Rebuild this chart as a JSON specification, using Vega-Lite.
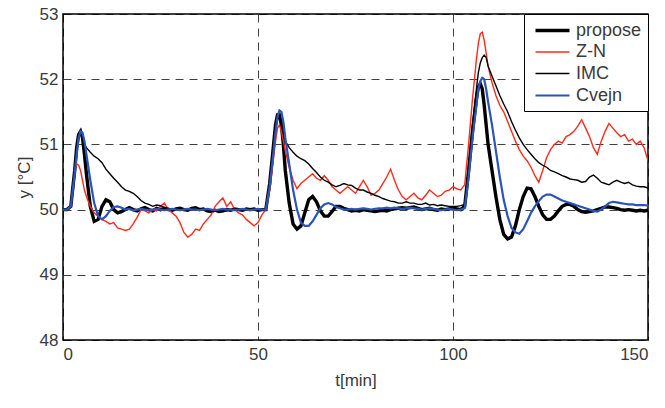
{
"$schema": "https://vega.github.io/schema/vega-lite/v6.json",
"width": 585, "height": 326,
"autosize": {"type": "none"},
"padding": {"left": 63, "top": 14, "right": 17, "bottom": 68},
"background": "white",
"config": {
  "view": {"stroke": "#000000", "strokeWidth": 1.5},
  "axis": {"labelFont": "Liberation Sans", "titleFont": "Liberation Sans", "labelFontSize": 17, "titleFontSize": 17, "titleFontWeight": "normal", "labelColor": "#3a3a3a", "titleColor": "#3a3a3a", "domain": false, "ticks": false, "grid": true, "gridColor": "#000000", "gridDash": [8, 6], "gridWidth": 1, "gridOpacity": 0.75},
  "legend": {"labelFont": "Liberation Sans"}
},
"data": {"values": [
{"t":0,"p":50,"z":50,"i":50,"c":50},
{"t":1,"p":50,"z":50,"i":50,"c":50},
{"t":2,"p":50.05,"z":50.05,"i":50.05,"c":50.05},
{"t":3,"p":50.6,"z":50.55,"i":50.6,"c":50.55},
{"t":3.5,"p":50.95,"z":50.7,"i":50.95,"c":50.85},
{"t":4,"p":51.15,"z":50.68,"i":51.15,"c":51.1},
{"t":4.5,"p":51.2,"z":50.6,"i":51.18,"c":51.2},
{"t":5,"p":51.1,"z":50.45,"i":51.1,"c":51.18},
{"t":5.5,"p":50.85,"z":50.3,"i":51.0,"c":51.05},
{"t":6,"p":50.55,"z":50.2,"i":50.95,"c":50.85},
{"t":7,"p":50.05,"z":50.05,"i":50.88,"c":50.45},
{"t":8,"p":49.82,"z":49.95,"i":50.82,"c":50.1},
{"t":9,"p":49.85,"z":49.9,"i":50.78,"c":49.9},
{"t":10,"p":50.05,"z":49.85,"i":50.72,"c":49.85},
{"t":11,"p":50.15,"z":49.82,"i":50.62,"c":49.9},
{"t":12,"p":50.12,"z":49.78,"i":50.55,"c":49.98},
{"t":13,"p":50.0,"z":49.8,"i":50.48,"c":50.04},
{"t":14,"p":49.95,"z":49.72,"i":50.42,"c":50.05},
{"t":15,"p":49.97,"z":49.7,"i":50.35,"c":50.03},
{"t":16,"p":50.0,"z":49.68,"i":50.3,"c":50.0},
{"t":17,"p":50.03,"z":49.7,"i":50.28,"c":50.01},
{"t":18,"p":50.0,"z":49.78,"i":50.25,"c":49.99},
{"t":19,"p":49.98,"z":49.88,"i":50.2,"c":50.0},
{"t":20,"p":50.01,"z":50.0,"i":50.14,"c":50.01},
{"t":21,"p":50.03,"z":49.98,"i":50.1,"c":50.0},
{"t":22,"p":50.0,"z":49.95,"i":50.08,"c":49.99},
{"t":23,"p":49.98,"z":50.0,"i":50.05,"c":50.0},
{"t":24,"p":50.02,"z":49.98,"i":50.07,"c":50.01},
{"t":25,"p":50.0,"z":50.05,"i":50.06,"c":50.0},
{"t":26,"p":50.02,"z":50.1,"i":50.03,"c":49.99},
{"t":27,"p":50.0,"z":50.0,"i":50.02,"c":50.0},
{"t":28,"p":49.99,"z":49.95,"i":50.0,"c":50.01},
{"t":29,"p":50.01,"z":49.9,"i":50.01,"c":50.0},
{"t":30,"p":50.02,"z":49.8,"i":50.02,"c":49.99},
{"t":31,"p":50.0,"z":49.65,"i":50.0,"c":50.0},
{"t":32,"p":49.99,"z":49.58,"i":49.99,"c":50.01},
{"t":33,"p":50.02,"z":49.62,"i":50.01,"c":50.0},
{"t":34,"p":50.03,"z":49.7,"i":50.02,"c":50.0},
{"t":35,"p":50.0,"z":49.68,"i":49.99,"c":49.99},
{"t":36,"p":50.01,"z":49.78,"i":50.0,"c":50.0},
{"t":37,"p":49.98,"z":49.85,"i":49.98,"c":50.01},
{"t":38,"p":49.97,"z":49.92,"i":49.97,"c":50.0},
{"t":39,"p":49.99,"z":50.05,"i":49.98,"c":49.99},
{"t":40,"p":49.97,"z":50.12,"i":49.99,"c":50.0},
{"t":41,"p":49.98,"z":50.18,"i":49.97,"c":50.01},
{"t":42,"p":50.0,"z":50.05,"i":49.98,"c":50.0},
{"t":43,"p":49.99,"z":50.12,"i":50.0,"c":50.0},
{"t":44,"p":50.01,"z":50.0,"i":50.01,"c":49.99},
{"t":45,"p":50.0,"z":49.95,"i":50.0,"c":50.0},
{"t":46,"p":49.99,"z":49.92,"i":49.99,"c":50.01},
{"t":47,"p":50.01,"z":49.85,"i":50.0,"c":50.0},
{"t":48,"p":50.0,"z":49.8,"i":50.01,"c":49.99},
{"t":49,"p":50.01,"z":49.75,"i":49.99,"c":50.0},
{"t":50,"p":49.99,"z":49.8,"i":50.0,"c":50.01},
{"t":51,"p":50.0,"z":49.92,"i":50.0,"c":50.0},
{"t":52,"p":50.0,"z":50.0,"i":50.0,"c":50.0},
{"t":53,"p":50.4,"z":50.3,"i":50.4,"c":50.35},
{"t":54,"p":51.0,"z":50.8,"i":50.95,"c":50.9},
{"t":54.5,"p":51.3,"z":51.05,"i":51.25,"c":51.2},
{"t":55,"p":51.45,"z":51.25,"i":51.4,"c":51.42},
{"t":55.5,"p":51.45,"z":51.3,"i":51.45,"c":51.52},
{"t":56,"p":51.3,"z":51.2,"i":51.35,"c":51.5},
{"t":56.5,"p":51.0,"z":51.05,"i":51.2,"c":51.35},
{"t":57,"p":50.6,"z":50.9,"i":51.05,"c":51.1},
{"t":58,"p":50.1,"z":50.65,"i":50.95,"c":50.7},
{"t":59,"p":49.78,"z":50.45,"i":50.88,"c":50.3},
{"t":60,"p":49.7,"z":50.32,"i":50.82,"c":50.0},
{"t":61,"p":49.75,"z":50.4,"i":50.78,"c":49.8},
{"t":62,"p":49.95,"z":50.45,"i":50.75,"c":49.75},
{"t":63,"p":50.15,"z":50.5,"i":50.7,"c":49.75},
{"t":64,"p":50.2,"z":50.55,"i":50.63,"c":49.82},
{"t":65,"p":50.12,"z":50.48,"i":50.57,"c":49.92},
{"t":66,"p":49.98,"z":50.45,"i":50.5,"c":50.02},
{"t":67,"p":49.9,"z":50.52,"i":50.45,"c":50.08},
{"t":68,"p":49.9,"z":50.45,"i":50.42,"c":50.1},
{"t":69,"p":49.97,"z":50.35,"i":50.38,"c":50.08},
{"t":70,"p":50.05,"z":50.3,"i":50.35,"c":50.04},
{"t":71,"p":50.05,"z":50.25,"i":50.37,"c":50.02},
{"t":72,"p":50.02,"z":50.3,"i":50.4,"c":50.0},
{"t":73,"p":50.0,"z":50.35,"i":50.38,"c":50.0},
{"t":74,"p":49.98,"z":50.3,"i":50.37,"c":50.01},
{"t":75,"p":49.99,"z":50.25,"i":50.33,"c":50.0},
{"t":76,"p":49.98,"z":50.35,"i":50.3,"c":50.01},
{"t":77,"p":50.0,"z":50.45,"i":50.3,"c":50.02},
{"t":78,"p":49.99,"z":50.35,"i":50.27,"c":50.01},
{"t":79,"p":49.98,"z":50.22,"i":50.25,"c":50.0},
{"t":80,"p":49.97,"z":50.25,"i":50.22,"c":50.01},
{"t":81,"p":49.98,"z":50.3,"i":50.2,"c":50.02},
{"t":82,"p":49.99,"z":50.4,"i":50.17,"c":50.02},
{"t":83,"p":49.98,"z":50.5,"i":50.15,"c":50.03},
{"t":84,"p":50.0,"z":50.62,"i":50.13,"c":50.02},
{"t":85,"p":50.01,"z":50.45,"i":50.12,"c":50.03},
{"t":86,"p":50.02,"z":50.3,"i":50.1,"c":50.02},
{"t":87,"p":50.03,"z":50.2,"i":50.1,"c":50.01},
{"t":88,"p":50.02,"z":50.15,"i":50.12,"c":50.02},
{"t":89,"p":50.03,"z":50.2,"i":50.1,"c":50.03},
{"t":90,"p":50.04,"z":50.25,"i":50.1,"c":50.02},
{"t":91,"p":50.02,"z":50.18,"i":50.08,"c":50.01},
{"t":92,"p":50.0,"z":50.15,"i":50.08,"c":50.0},
{"t":93,"p":50.01,"z":50.22,"i":50.1,"c":50.01},
{"t":94,"p":50.02,"z":50.3,"i":50.07,"c":50.02},
{"t":95,"p":50.0,"z":50.25,"i":50.08,"c":50.01},
{"t":96,"p":49.99,"z":50.2,"i":50.06,"c":50.0},
{"t":97,"p":50.01,"z":50.22,"i":50.07,"c":49.99},
{"t":98,"p":50.0,"z":50.28,"i":50.06,"c":50.0},
{"t":99,"p":50.01,"z":50.3,"i":50.05,"c":50.01},
{"t":100,"p":50.02,"z":50.35,"i":50.05,"c":50.0},
{"t":101,"p":50.01,"z":50.32,"i":50.05,"c":49.99},
{"t":102,"p":50.0,"z":50.3,"i":50.06,"c":50.0},
{"t":103,"p":50.05,"z":50.38,"i":50.08,"c":50.02},
{"t":104,"p":50.6,"z":51.0,"i":50.6,"c":50.5},
{"t":105,"p":51.2,"z":51.7,"i":51.3,"c":51.1},
{"t":106,"p":51.7,"z":52.3,"i":51.85,"c":51.6},
{"t":106.5,"p":51.88,"z":52.55,"i":52.1,"c":51.85},
{"t":107,"p":51.93,"z":52.7,"i":52.25,"c":51.97},
{"t":107.5,"p":51.85,"z":52.72,"i":52.33,"c":52.02},
{"t":108,"p":51.6,"z":52.6,"i":52.37,"c":52.0},
{"t":108.5,"p":51.3,"z":52.4,"i":52.33,"c":51.85},
{"t":109,"p":51.0,"z":52.2,"i":52.2,"c":51.65},
{"t":110,"p":50.6,"z":51.95,"i":52.05,"c":51.3},
{"t":111,"p":50.2,"z":51.75,"i":51.9,"c":50.9},
{"t":112,"p":49.85,"z":51.6,"i":51.75,"c":50.5},
{"t":113,"p":49.62,"z":51.5,"i":51.62,"c":50.15},
{"t":114,"p":49.55,"z":51.35,"i":51.5,"c":49.9},
{"t":115,"p":49.58,"z":51.2,"i":51.35,"c":49.72},
{"t":116,"p":49.75,"z":51.05,"i":51.22,"c":49.65},
{"t":117,"p":50.0,"z":50.92,"i":51.1,"c":49.63},
{"t":118,"p":50.2,"z":50.82,"i":51.0,"c":49.7},
{"t":119,"p":50.33,"z":50.75,"i":50.92,"c":49.82},
{"t":120,"p":50.32,"z":50.65,"i":50.85,"c":49.95},
{"t":121,"p":50.2,"z":50.52,"i":50.78,"c":50.05},
{"t":122,"p":50.05,"z":50.42,"i":50.72,"c":50.13},
{"t":123,"p":49.92,"z":50.6,"i":50.68,"c":50.2},
{"t":124,"p":49.85,"z":50.8,"i":50.65,"c":50.23},
{"t":125,"p":49.85,"z":50.92,"i":50.6,"c":50.23},
{"t":126,"p":49.9,"z":51.0,"i":50.58,"c":50.2},
{"t":127,"p":49.98,"z":51.05,"i":50.55,"c":50.17},
{"t":128,"p":50.05,"z":51.02,"i":50.52,"c":50.14},
{"t":129,"p":50.08,"z":51.12,"i":50.5,"c":50.12},
{"t":130,"p":50.08,"z":51.15,"i":50.47,"c":50.1},
{"t":131,"p":50.05,"z":51.2,"i":50.46,"c":50.08},
{"t":132,"p":50.0,"z":51.28,"i":50.45,"c":50.06},
{"t":133,"p":49.97,"z":51.38,"i":50.42,"c":50.04},
{"t":134,"p":49.96,"z":51.25,"i":50.43,"c":50.02},
{"t":135,"p":49.97,"z":51.12,"i":50.5,"c":50.0},
{"t":136,"p":49.98,"z":50.95,"i":50.53,"c":49.98},
{"t":137,"p":50.0,"z":50.85,"i":50.48,"c":49.97},
{"t":138,"p":50.02,"z":51.05,"i":50.42,"c":50.0},
{"t":139,"p":50.04,"z":51.2,"i":50.4,"c":50.05},
{"t":140,"p":50.04,"z":51.32,"i":50.38,"c":50.1},
{"t":141,"p":50.03,"z":51.25,"i":50.42,"c":50.12},
{"t":142,"p":50.02,"z":51.18,"i":50.45,"c":50.11},
{"t":143,"p":50.0,"z":51.12,"i":50.42,"c":50.1},
{"t":144,"p":49.99,"z":51.15,"i":50.4,"c":50.09},
{"t":145,"p":50.0,"z":51.05,"i":50.42,"c":50.08},
{"t":146,"p":49.99,"z":51.08,"i":50.38,"c":50.08},
{"t":147,"p":49.98,"z":51.0,"i":50.36,"c":50.07},
{"t":148,"p":49.99,"z":51.05,"i":50.35,"c":50.07},
{"t":149,"p":49.98,"z":50.95,"i":50.35,"c":50.07},
{"t":150,"p":49.99,"z":50.75,"i":50.33,"c":50.06}
]},
"transform": [{"fold": ["p", "z", "i", "c"], "as": ["k", "y"]}],
"mark": {"type": "line", "clip": true},
"encoding": {
  "x": {"field": "t", "type": "quantitative", "scale": {"domain": [0, 150], "nice": false}, "axis": {"values": [0, 50, 100, 150], "title": "t[min]", "labelPadding": 6, "titlePadding": 10}},
  "y": {"field": "y", "type": "quantitative", "scale": {"domain": [48, 53], "nice": false, "zero": false}, "axis": {"values": [48, 49, 50, 51, 52, 53], "title": "y [°C]", "labelPadding": 5, "titlePadding": 6}},
  "color": {"field": "k", "type": "nominal", "scale": {"domain": ["p", "z", "i", "c"], "range": ["#000000", "#ff2a1a", "#000000", "#2b54b8"]},
    "legend": {"title": null, "orient": "top-right", "offset": 0, "strokeColor": "#000000", "fillColor": "#ffffff", "padding": 6, "cornerRadius": 0, "symbolType": "M-2,0H2", "symbolSize": 289, "symbolOffset": 12, "labelFontSize": 18, "labelColor": "#3a3a3a", "rowPadding": 2.5, "labelOffset": 13,
      "labelExpr": "datum.label == 'p' ? 'propose' : datum.label == 'z' ? 'Z-N' : datum.label == 'i' ? 'IMC' : 'Cvejn'"}},
  "strokeWidth": {"field": "k", "type": "nominal", "scale": {"type": "ordinal", "domain": ["p", "z", "i", "c"], "range": [3.4, 1.4, 1.4, 2.2]}, "legend": {"title": null, "orient": "top-right", "offset": 0, "labelExpr": "datum.label == 'p' ? 'propose' : datum.label == 'z' ? 'Z-N' : datum.label == 'i' ? 'IMC' : 'Cvejn'"}}
}
}
